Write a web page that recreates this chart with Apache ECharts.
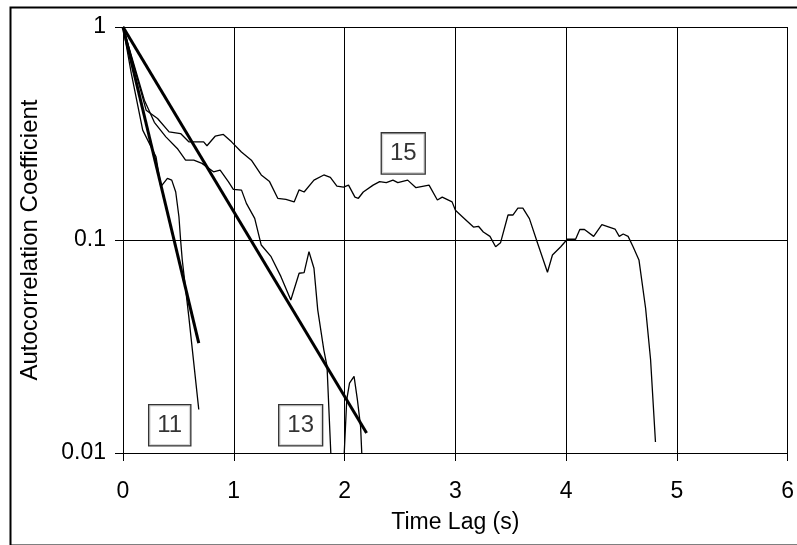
<!DOCTYPE html>
<html>
<head>
<meta charset="utf-8">
<script src="https://cdn.jsdelivr.net/npm/echarts@6/dist/echarts.min.js"></script>
<style>
html,body{margin:0;padding:0;background:#fff;}
#chart{width:797px;height:545px;}
</style>
</head>
<body>
<div id="chart"></div>
<script>
// Series 11 (measured)
const lag11 = [0, 0.075, 0.178, 0.298, 0.342, 0.401, 0.440, 0.476, 0.505, 0.520, 0.535, 0.594, 0.684];
const acf11 = [1, 0.605, 0.328, 0.246, 0.178, 0.1946, 0.191, 0.168, 0.1286, 0.1, 0.0806, 0.0437, 0.0160];
// Series 11 exponential fit
const fitLag11 = [0, 0.684];
const fitAcf11 = [1, 0.0328];

// Series 13 (measured)
const lag13 = [0, 0.193, 0.283, 0.387, 0.490, 0.565, 0.639, 0.713, 0.817, 0.877, 0.951, 0.996, 1.070, 1.114, 1.189, 1.248, 1.337, 1.426, 1.515, 1.590, 1.635, 1.679, 1.724, 1.758, 1.813, 1.842, 1.92, 1.95, 2.020, 2.045, 2.086, 2.116, 2.145, 2.20];
const acf13 = [1, 0.453, 0.357, 0.305, 0.269, 0.237, 0.237, 0.229, 0.209, 0.213, 0.188, 0.173, 0.1715, 0.1486, 0.1264, 0.0947, 0.0835, 0.0673, 0.0523, 0.0698, 0.0703, 0.0881, 0.0737, 0.0470, 0.0305, 0.0255, 0.003, 0.003, 0.0178, 0.0213, 0.0229, 0.0178, 0.0133, 0.003];
// Series 13 exponential fit
const fitLag13 = [0, 2.199];
const fitAcf13 = [1, 0.0124];

// Series 15 (measured)
const lag15 = [0, 0.209, 0.312, 0.416, 0.520, 0.594, 0.654, 0.728, 0.758, 0.832, 0.906, 0.980, 1.069, 1.159, 1.248, 1.323, 1.397, 1.471, 1.545, 1.590, 1.635, 1.724, 1.813, 1.872, 1.931, 1.991, 2.036, 2.094, 2.125, 2.169, 2.258, 2.317, 2.377, 2.437, 2.481, 2.570, 2.645, 2.763, 2.838, 2.882, 2.971, 3.001, 3.061, 3.164, 3.209, 3.253, 3.313, 3.364, 3.408, 3.476, 3.520, 3.565, 3.610, 3.669, 3.743, 3.832, 3.877, 3.952, 4.011, 4.086, 4.124, 4.166, 4.249, 4.323, 4.442, 4.480, 4.516, 4.560, 4.605, 4.658, 4.718, 4.763, 4.807];
const acf15 = [1, 0.407, 0.372, 0.322, 0.316, 0.289, 0.289, 0.289, 0.277, 0.307, 0.313, 0.289, 0.259, 0.237, 0.202, 0.188, 0.157, 0.155, 0.151, 0.172, 0.168, 0.191, 0.202, 0.197, 0.179, 0.177, 0.181, 0.159, 0.157, 0.168, 0.181, 0.188, 0.186, 0.191, 0.186, 0.191, 0.176, 0.181, 0.154, 0.159, 0.151, 0.138, 0.129, 0.115, 0.116, 0.109, 0.104, 0.093, 0.097, 0.131, 0.131, 0.141, 0.141, 0.126, 0.0965, 0.0706, 0.085, 0.093, 0.1008, 0.1008, 0.112, 0.112, 0.104, 0.118, 0.1126, 0.104, 0.1067, 0.104, 0.093, 0.0806, 0.0478, 0.0274, 0.01126];

// Annotation boxes
const boxNames = ['11', '13', '15'];
const boxLag = [0.422, 1.604, 2.530];
const boxAcf = [0.0135, 0.0135, 0.255];

// Tick labels
const xTickLabels = ['0', '1', '2', '3', '4', '5', '6'];
const yTickLabels = {1: '1', 0.1: '0.1', 0.01: '0.01'};

const pairs = (xs, ys) => xs.map((x, i) => [x, ys[i]]);

const thin = {type: 'line', showSymbol: false, symbol: 'none', clip: true, animation: false,
  lineStyle: {color: '#000', width: 1.3}, silent: true};
const thick = {type: 'line', showSymbol: false, symbol: 'none', clip: true, animation: false,
  lineStyle: {color: '#000', width: 3}, silent: true};

const FONT = 'Liberation Sans, Arial, sans-serif';

const chart = echarts.init(document.getElementById('chart'), null, {renderer: 'canvas'});
chart.setOption({
  animation: false,
  backgroundColor: '#fff',
  graphic: [{
    type: 'rect', left: 8, top: 5, shape: {width: 800, height: 538},
    style: {fill: 'none', stroke: '#000', lineWidth: 2}, silent: true, z: 100
  }],
  grid: {left: 123, top: 27, right: 1, bottom: 92, containLabel: false},
  xAxis: {
    type: 'value', min: 0, max: 6, interval: 1,
    name: 'Time Lag (s)', nameLocation: 'middle', nameGap: 58,
    nameTextStyle: {color: '#000', fontSize: 23, fontFamily: FONT},
    axisLine: {show: true, lineStyle: {color: '#000', width: 1}},
    axisTick: {show: true, length: 8, lineStyle: {color: '#000'}},
    axisLabel: {color: '#000', fontSize: 23, fontFamily: FONT, margin: 27,
      formatter: (v) => xTickLabels[Math.round(v)]},
    splitLine: {show: true, lineStyle: {color: '#000', width: 1}}
  },
  yAxis: {
    type: 'log', logBase: 10, min: 0.01, max: 1,
    name: 'Autocorrelation Coefficient', nameLocation: 'middle', nameGap: 81,
    nameTextStyle: {color: '#000', fontSize: 24, fontFamily: FONT},
    axisLine: {show: true, lineStyle: {color: '#000', width: 1}},
    axisTick: {show: true, length: 8, lineStyle: {color: '#000'}},
    axisLabel: {color: '#000', fontSize: 23, fontFamily: FONT, margin: 17,
      formatter: (v) => yTickLabels[v] !== undefined ? yTickLabels[v] : String(v)},
    splitLine: {show: true, lineStyle: {color: '#000', width: 1}},
    minorTick: {show: false}, minorSplitLine: {show: false}
  },
  series: [
    Object.assign({}, thin, {name: '15', data: pairs(lag15, acf15)}),
    Object.assign({}, thin, {name: '13', data: pairs(lag13, acf13)}),
    Object.assign({}, thin, {name: '11', data: pairs(lag11, acf11)}),
    Object.assign({}, thick, {name: 'fit13', data: pairs(fitLag13, fitAcf13)}),
    Object.assign({}, thick, {name: 'fit11', data: pairs(fitLag11, fitAcf11)}),
    {
      type: 'scatter', symbolSize: 1, itemStyle: {color: 'rgba(0,0,0,0)'}, silent: true, z: 10,
      data: boxNames.map((n, i) => ({name: n, value: [boxLag[i], boxAcf[i]]})),
      label: {show: true, position: 'inside', formatter: (p) => p.name,
        color: '#000', fontSize: 24, fontFamily: FONT, lineHeight: 25,
        backgroundColor: '#fff', borderColor: '#000', borderWidth: 1.3, padding: [8, 8, 7, 8]}
    }
  ]
});
</script>
</body>
</html>
